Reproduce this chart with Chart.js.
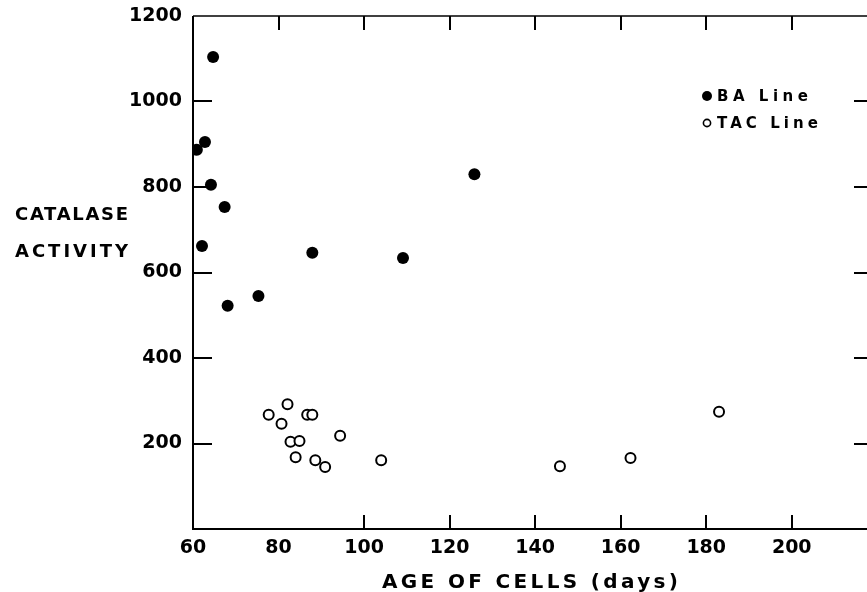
<!DOCTYPE html>
<html>
<head>
<meta charset="utf-8">
<script src="https://cdn.jsdelivr.net/npm/chart.js@4.4.1/dist/chart.umd.min.js"></script>
<style>
  html, body { margin: 0; padding: 0; background: #fff; overflow: hidden; }
  #wrap { position: relative; width: 880px; height: 592px; }
</style>
</head>
<body>
<div id="wrap"><canvas id="chart"></canvas></div>
<script>
// values: age of cells (days) vs catalase activity
const baAge      = [64.7, 62.8, 60.9, 64.2, 67.4, 62.1, 87.9, 68.1, 75.3, 109.1, 125.8];
const baActivity = [1104, 905,  887,  805,  753,  662,  646,  522,  545,  634,   830];

const tacAge      = [77.7, 82.1, 80.7, 86.7, 87.9, 82.8, 84.9, 84.0, 94.4, 88.6, 90.9, 104.0, 145.8, 162.3, 183.0];
const tacActivity = [267,  292,  246,  267,  267,  204,  206,  168,  218,  161,  145,  161,   147,   166,   274];

const xTickValues   = [60, 80, 100, 120, 140, 160, 180, 200];
const yTickValues   = [200, 400, 600, 800, 1000, 1200];
const xTopMarks     = [80, 100, 120, 140, 160, 180, 200];
const xBottomMarks  = [100, 120, 140, 160, 180, 200];
const yMarks        = [200, 400, 600, 800, 1000];

const seriesNames = ['BA Line', 'TAC Line'];
const xTitle = 'AGE OF CELLS (days)';
const yTitle = ['CATALASE', 'ACTIVITY'];

const FONT = '"DejaVu Sans", sans-serif';

const toPoints = (xs, ys) => xs.map((x, i) => ({ x: x, y: ys[i] }));

// draw text stretched to a given width with letter spacing
function spacedText(ctx, text, x, y, width) {
  ctx.letterSpacing = '0px';
  const w0 = ctx.measureText(text).width;
  const sp = Math.max(0, (width - w0) / (text.length - 1));
  ctx.letterSpacing = sp + 'px';
  ctx.textAlign = 'left';
  ctx.fillText(text, x, y);
  ctx.letterSpacing = '0px';
}

const framePlugin = {
  id: 'frame',
  afterDraw(chart) {
    const ctx = chart.ctx;
    const { left, right, top, bottom } = chart.chartArea;
    const xs = chart.scales.x, ys = chart.scales.y;
    ctx.save();
    ctx.strokeStyle = '#000';
    ctx.lineCap = 'butt';

    // box
    ctx.lineWidth = 2;
    ctx.beginPath();
    ctx.moveTo(left, top); ctx.lineTo(left, bottom); ctx.lineTo(right, bottom);
    ctx.moveTo(right, bottom); ctx.lineTo(right, top);
    ctx.stroke();
    ctx.lineWidth = 1.6;
    ctx.beginPath();
    ctx.moveTo(left, top); ctx.lineTo(right, top);
    ctx.stroke();

    // inward tick marks
    ctx.lineWidth = 2;
    ctx.beginPath();
    yMarks.forEach(v => {
      const py = Math.round(ys.getPixelForValue(v));
      ctx.moveTo(left, py); ctx.lineTo(left + 19, py);
      ctx.moveTo(right, py); ctx.lineTo(right - 19, py);
    });
    xTopMarks.forEach(v => {
      const px = Math.round(xs.getPixelForValue(v));
      ctx.moveTo(px, top); ctx.lineTo(px, top + 14);
    });
    xBottomMarks.forEach(v => {
      const px = Math.round(xs.getPixelForValue(v));
      ctx.moveTo(px, bottom); ctx.lineTo(px, bottom - 14);
    });
    ctx.stroke();

    // axis titles
    ctx.fillStyle = '#000';
    ctx.textBaseline = 'alphabetic';
    ctx.font = 'bold 20px ' + FONT;
    spacedText(ctx, xTitle, 382, 588, 296);
    ctx.font = 'bold 18px ' + FONT;
    spacedText(ctx, yTitle[0], 15, 220, 113);
    spacedText(ctx, yTitle[1], 15, 257, 113);

    // legend
    ctx.font = 'bold 15px ' + FONT;
    ctx.beginPath();
    ctx.arc(707, 96, 5, 0, Math.PI * 2);
    ctx.fill();
    spacedText(ctx, seriesNames[0], 717, 101, 91);
    ctx.beginPath();
    ctx.lineWidth = 1.6;
    ctx.arc(707, 123, 3.6, 0, Math.PI * 2);
    ctx.stroke();
    spacedText(ctx, seriesNames[1], 717, 128, 101);
    ctx.restore();
  }
};

new Chart(document.getElementById('chart'), {
  type: 'scatter',
  data: {
    datasets: [
      {
        label: seriesNames[0],
        data: toPoints(baAge, baActivity),
        pointStyle: 'circle',
        pointRadius: 6,
        pointBackgroundColor: '#000',
        pointBorderWidth: 0
      },
      {
        label: seriesNames[1],
        data: toPoints(tacAge, tacActivity),
        pointStyle: 'circle',
        pointRadius: 5,
        pointBackgroundColor: '#fff',
        pointBorderColor: '#000',
        pointBorderWidth: 2
      }
    ]
  },
  options: {
    responsive: true,
    maintainAspectRatio: false,
    animation: false,
    layout: { padding: { top: 16, right: 5, left: 0, bottom: 0 } },
    plugins: { legend: { display: false }, tooltip: { enabled: false } },
    scales: {
      x: {
        type: 'linear',
        min: 60,
        max: 219,
        afterBuildTicks: s => { s.ticks = xTickValues.map(v => ({ value: v })); },
        afterFit: s => { s.height = 592 - 529; s.paddingLeft = 0; s.paddingRight = 0; },
        grid: { display: false, drawTicks: false },
        border: { display: false },
        ticks: { color: '#000', padding: 8, maxRotation: 0, callback: v => String(v),
                 font: { family: FONT, size: 19, weight: 'bold' } }
      },
      y: {
        type: 'linear',
        min: 0,
        max: 1200,
        afterBuildTicks: s => { s.ticks = yTickValues.map(v => ({ value: v })); },
        afterFit: s => { s.width = 193; s.paddingTop = 0; s.paddingBottom = 0; },
        grid: { display: false, drawTicks: false },
        border: { display: false },
        ticks: { color: '#000', padding: 11, callback: v => String(v),
                 font: { family: FONT, size: 19, weight: 'bold' } }
      }
    }
  },
  plugins: [framePlugin]
});
</script>
</body>
</html>
